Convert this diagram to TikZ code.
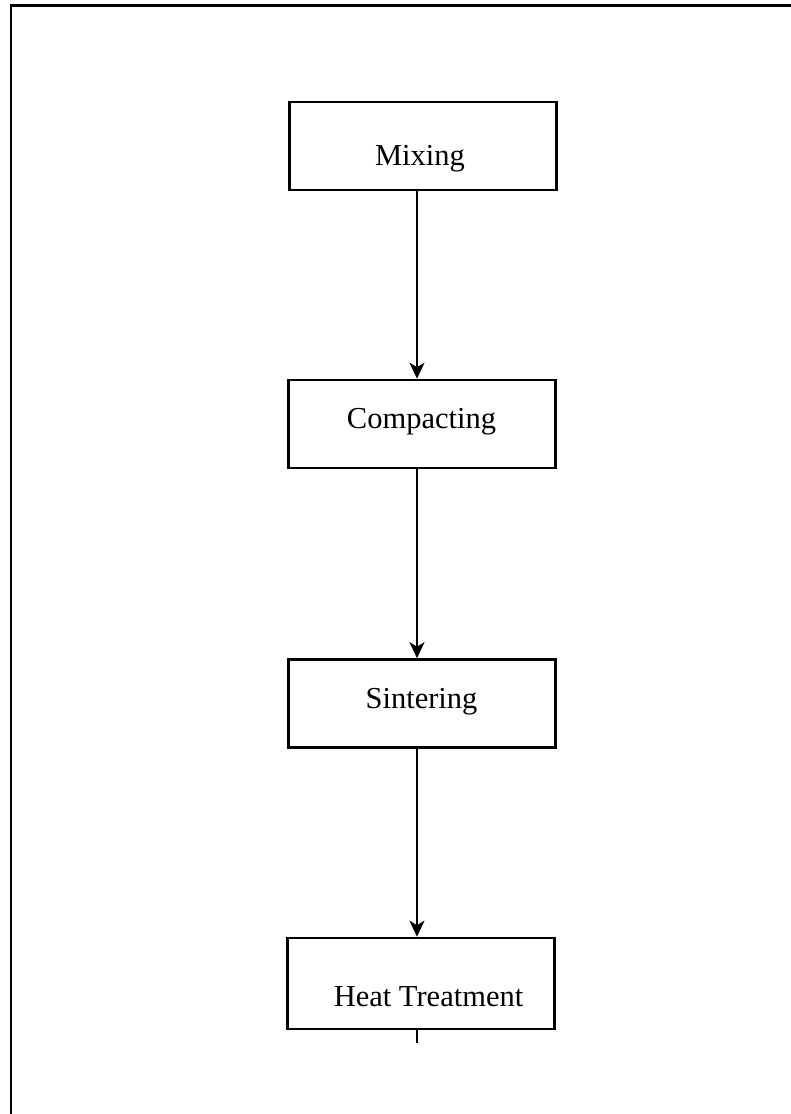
\documentclass[tikz,border=0pt]{standalone}
\usepackage{fontspec}
\setmainfont{Liberation Serif}
\usetikzlibrary{arrows.meta}
\begin{document}
\begin{tikzpicture}[x=1pt,y=-1pt,
  box/.style={draw, line width=2.6pt, minimum width=267pt, minimum height=88pt, inner sep=0pt},
  lbl/.style={anchor=base, font=\fontsize{30.5}{36}\selectfont, inner sep=0pt},
  conn/.style={line width=2.3pt, -{Stealth[length=16pt, width=15pt, inset=4.5pt]}},
  tail/.style={line width=2.3pt}]
\useasboundingbox (0,0) rectangle (791,1114);
\fill[white] (0,0) rectangle (791,1114);
\begin{scope}
\clip (0,0) rectangle (791,1114);
\draw[line width=2.8pt] (800,5.5) -- (11,5.5) -- (11,1130);
\end{scope}
\node[box] (mix) at (423,146) {};
\node[box] (com) at (422,424) {};
\node[box] (sin) at (422,703.5) {};
\node[box, minimum height=91pt] (heat) at (421,983.5) {};
\node[lbl] (tmix) at (420,165) {Mixing};
\node[lbl] (tcom) at (421.5,428) {Compacting};
\node[lbl] (tsin) at (421.5,708) {Sintering};
\node[lbl] (theat) at (428.5,1006) {Heat Treatment};
\coordinate (ax) at (417,0);
\coordinate (end) at (417,1043);
\draw[conn] (mix.south -| ax) -- (com.north -| ax);
\draw[conn] (com.south -| ax) -- (sin.north -| ax);
\draw[conn] (sin.south -| ax) -- (heat.north -| ax);
\draw[tail] (heat.south -| ax) -- (end);
\end{tikzpicture}
\end{document}
